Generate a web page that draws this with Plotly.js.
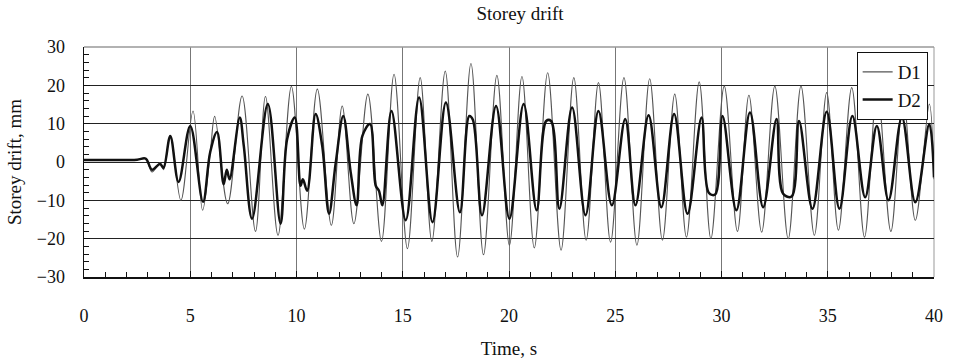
<!DOCTYPE html>
<html>
<head>
<meta charset="utf-8">
<script src="https://cdn.plot.ly/plotly-3.0.1.min.js"></script>
<style>html,body{margin:0;padding:0;background:#fff;}#chart{width:963px;height:361px;}</style>
</head>
<body>
<div id="chart"></div>
<script>
// D1 (thin line): time (s) and storey drift (mm), read at peaks/troughs
const d1Time = [0, 1.25, 2.5, 2.9, 3.2, 3.58, 3.74, 4.06, 4.56, 5.13, 5.58, 5.95, 6.15, 6.76, 7.44, 8.07, 8.54, 9.13, 9.76, 10.37, 10.98, 11.64, 12.15, 12.7, 13.36, 14.0, 14.59, 15.22, 15.82, 16.37, 17.0, 17.58, 18.21, 18.8, 19.43, 20.02, 20.61, 21.19, 21.82, 22.45, 23.05, 23.63, 24.21, 24.78, 25.41, 26.02, 26.62, 27.22, 27.8, 28.35, 28.95, 29.5, 30.13, 30.75, 31.29, 31.89, 32.51, 33.14, 33.74, 34.37, 34.95, 35.5, 36.13, 36.73, 37.33, 37.97, 38.55, 39.12, 39.78, 40];
const d1Drift = [0.5, 0.5, 0.6, 0.9, -2.6, -0.2, -2.0, 6.8, -10, 13.3, -12.6, 3, 11.9, -10.9, 17.2, -18.1, 17.1, -19.1, 19.7, -17.5, 19, -16.5, 14.6, -16.1, 17.7, -20.7, 22.9, -22.6, 22, -20.7, 23.7, -24.8, 25.7, -24.2, 22.6, -21.7, 22.3, -22.4, 23.3, -23, 22, -20.4, 20.7, -20.9, 22, -21.7, 21.7, -20.4, 17.7, -19.6, 20.9, -20, 19.8, -18.1, 17.4, -18.3, 19.8, -20, 19.8, -19.1, 18.1, -17.8, 19.4, -19.6, 19, -18.1, 17, -15.2, 15.1, -4.5];

// D2 (thick line)
const d2Time = [0, 1.25, 2.5, 2.9, 3.2, 3.58, 3.74, 4.06, 4.45, 5.0, 5.6, 5.94, 6.26, 6.57, 6.72, 6.85, 7.33, 7.52, 7.91, 8.65, 9.25, 9.56, 9.92, 10.19, 10.3, 10.5, 10.9, 11.21, 11.53, 11.84, 12.2, 12.55, 12.83, 13.1, 13.46, 13.73, 13.88, 14.04, 14.47, 15.14, 15.77, 16.4, 17.03, 17.69, 18.13, 18.3, 18.73, 19.39, 20.02, 20.69, 21.3, 21.75, 21.98, 22.37, 22.97, 23.6, 24.21, 24.84, 25.47, 25.95, 26.57, 27.17, 27.77, 28.4, 29.06, 29.4, 29.7, 30.05, 30.7, 31.34, 31.96, 32.59, 32.9, 33.3, 33.65, 34.28, 34.95, 35.55, 36.16, 36.76, 37.31, 37.86, 38.49, 39.12, 39.78, 40];
const d2Drift = [0.5, 0.5, 0.6, 0.9, -2.0, -0.5, -1.5, 6.8, -5.2, 9.4, -10.4, 2.6, 7.8, -5.8, -2, -4.5, 11.6, 4.2, -14.8, 15.1, -16.1, 6, 11.6, -6.2, -4.5, -7.5, 12.5, 4.2, -13.5, -0.5, 12, -2.7, -11.3, 6.8, 9.9, -6.2, -7.5, -11.3, 13.3, -15.2, 16.8, -15.7, 15.5, -13.1, 12, 11, -13.9, 14.6, -14.8, 15.1, -12.6, 10.7, 10.7, -12.2, 14.2, -13.9, 13.3, -11.3, 11.2, -11.3, 12.2, -11.8, 12.5, -13.5, 11.6, -8, -8.5, 12, -12.6, 12.9, -11.8, 11.2, -8.3, -9, 10.7, -12.2, 13.1, -12.2, 12, -9.2, 9.4, -10, 11.6, -10.5, 9.9, -4];

const serif = 'Liberation Serif, Times New Roman, serif';

const traces = [
  {x: d1Time, y: d1Drift, name: 'D1', mode: 'lines', type: 'scatter',
   line: {color: '#555', width: 1.1, shape: 'spline', smoothing: 1}},
  {x: d2Time, y: d2Drift, name: 'D2', mode: 'lines', type: 'scatter',
   line: {color: '#111', width: 2.5, shape: 'spline', smoothing: 1}}
];

const layout = {
  width: 963, height: 361,
  margin: {l: 84, r: 29, t: 47, b: 84},
  paper_bgcolor: '#fff', plot_bgcolor: '#fff',
  font: {family: serif, size: 18, color: '#111'},
  title: {text: 'Storey drift', font: {family: serif, size: 19, color: '#111'}, x: 0.54, xanchor: 'center', y: 0.962, yanchor: 'middle'},
  showlegend: true,
  legend: {x: 0.909, y: 0.978, xanchor: 'left', yanchor: 'top', bgcolor: '#fff', bordercolor: '#111', borderwidth: 1,
           font: {family: serif, size: 19, color: '#111'}, tracegroupgap: 0},
  xaxis: {range: [0, 40], dtick: 5, tick0: 0, showgrid: true, gridcolor: '#777', gridwidth: 1,
          zeroline: false, showline: true, linecolor: '#111', linewidth: 1.5,
          ticks: 'inside', ticklen: 6, tickcolor: '#111', ticklabelstandoff: 22,
          minor: {dtick: 1, ticks: 'inside', ticklen: 5, tickcolor: '#111', showgrid: false},
          title: {text: 'Time, s', font: {family: serif, size: 19}, standoff: 16}},
  yaxis: {range: [-30, 30], dtick: 10, tick0: 0, showgrid: true, gridcolor: '#222', gridwidth: 1,
          zeroline: false, showline: true, linecolor: '#111', linewidth: 1.5,
          ticks: 'inside', ticklen: 6, tickcolor: '#111', ticklabelstandoff: 14,
          minor: {dtick: 2, ticks: 'inside', ticklen: 5, tickcolor: '#111', showgrid: false},
          title: {text: 'Storey drift, mm', font: {family: serif, size: 19}, standoff: 10}},
  shapes: [
    {type: 'line', xref: 'paper', yref: 'paper', x0: 0, x1: 1, y0: 1, y1: 1, line: {color: '#999', width: 1.5}, layer: 'above'},
    {type: 'line', xref: 'paper', yref: 'paper', x0: 1, x1: 1, y0: 0, y1: 1, line: {color: '#999', width: 1}, layer: 'below'}
  ]
};

Plotly.newPlot('chart', traces, layout, {displayModeBar: false, staticPlot: true});
</script>
</body>
</html>
